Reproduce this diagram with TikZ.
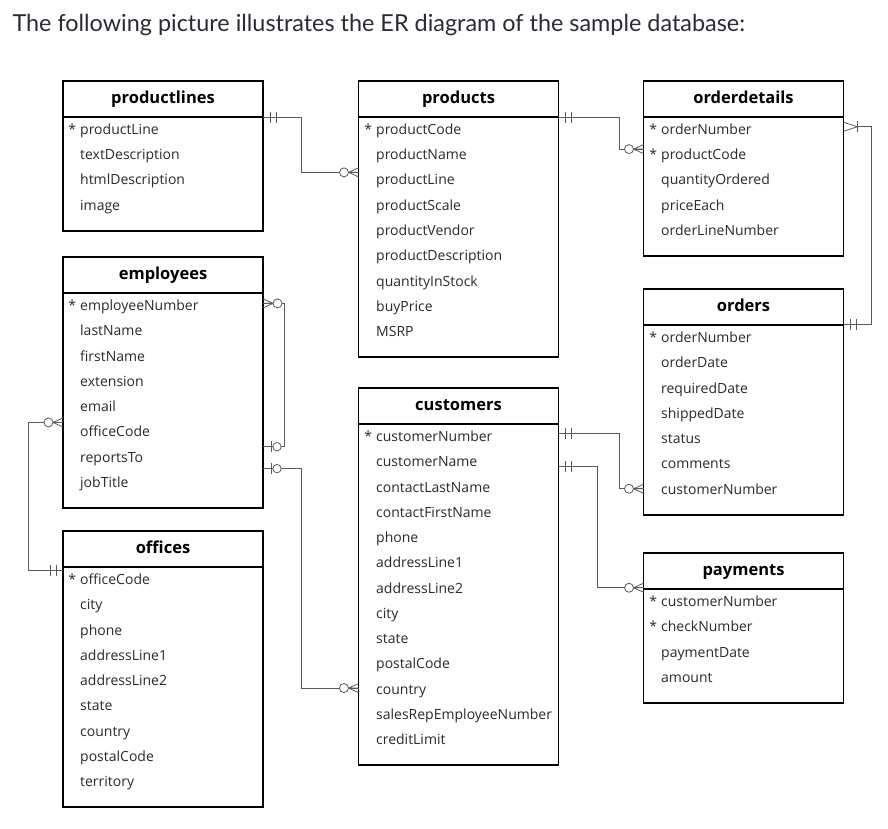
\documentclass[tikz,border=0pt]{standalone}
\usepackage{fontspec}
\setmainfont{Open Sans}
\newfontfamily\titlefont{Lato}
\usepackage{tikz}
\usetikzlibrary{positioning}
\usetikzlibrary{calc}
\newcommand{\keymark}{\llap{*\hspace{4pt}}}
\definecolor{relgray}{HTML}{5A5A5A}
\definecolor{fieldtext}{HTML}{2A2A2A}
\definecolor{titletext}{HTML}{2B2B33}
\begin{document}
\begin{tikzpicture}[x=1pt,y=-1pt,
		head/.style={draw=black, line width=1.6pt, outer sep=0pt, minimum width=200pt, minimum height=36pt, inner sep=0pt, text height=12pt, text depth=3.5pt, anchor=north, font=\fontsize{16.5}{18}\selectfont\bfseries},
		tablebox/.style={draw=black, line width=1.6pt, outer sep=0pt, minimum width=200pt, inner sep=0pt},
		field/.style={anchor=base west, inner sep=0pt, text=fieldtext, font=\fontsize{14}{16}\selectfont},
		rel/.style={draw=relgray, line width=0.8pt},
		zeromany/.pic={\draw[rel] (0,-4.5) -- (10,0) -- (0,4.5) (0,0) -- (10,0);
			\draw[rel, fill=white] (14.5,0) circle[radius=4.5];},
		onlyone/.pic={\draw[rel] (7,-5.5) -- (7,5.5) (13,-5.5) -- (13,5.5);},
		zeroone/.pic={\draw[rel] (8,-5.5) -- (8,5.5);
			\draw[rel, fill=white] (14,0) circle[radius=4.2];},
		onemany/.pic={\draw[rel] (0,-4.5) -- (14,0) -- (0,4.5) (14,-5.5) -- (14,5.5);}]
	\useasboundingbox[fill=white] (0,0) rectangle (888,829);

	\node[anchor=base west, text=titletext, font=\titlefont\fontsize{23.4}{26}\selectfont] (title) at (9,32) {The following picture illustrates the ER diagram of the sample database:};

	% tables
	\node[head] (productlines) at (163,81) {productlines};
	\node[tablebox, minimum height=114pt, below=0pt of productlines] (productlines-box) {};
	\foreach \f [count=\i] in {\keymark productLine, textDescription, htmlDescription, image}
		\node[field] (productlines-\i) at (80,{81+28.25+25.25*\i}) {\f};

	\node[head] (products) at (458.5,81) {products};
	\node[tablebox, minimum height=240pt, below=0pt of products] (products-box) {};
	\foreach \f [count=\i] in {\keymark productCode, productName, productLine, productScale, productVendor, productDescription, quantityInStock, buyPrice, MSRP}
		\node[field] (products-\i) at (376,{81+28.25+25.25*\i}) {\f};

	\node[head] (orderdetails) at (743.5,81) {orderdetails};
	\node[tablebox, minimum height=139pt, below=0pt of orderdetails] (orderdetails-box) {};
	\foreach \f [count=\i] in {\keymark orderNumber, \keymark productCode, quantityOrdered, priceEach, orderLineNumber}
		\node[field] (orderdetails-\i) at (661,{81+28.25+25.25*\i}) {\f};

	\node[head] (employees) at (163,257) {employees};
	\node[tablebox, minimum height=215pt, below=0pt of employees] (employees-box) {};
	\foreach \f [count=\i] in {\keymark employeeNumber, lastName, firstName, extension, email, officeCode, reportsTo, jobTitle}
		\node[field] (employees-\i) at (80,{257+28.25+25.25*\i}) {\f};

	\node[head] (orders) at (743.5,289) {orders};
	\node[tablebox, minimum height=190pt, below=0pt of orders] (orders-box) {};
	\foreach \f [count=\i] in {\keymark orderNumber, orderDate, requiredDate, shippedDate, status, comments, customerNumber}
		\node[field] (orders-\i) at (661,{289+28.25+25.25*\i}) {\f};

	\node[head] (customers) at (458.5,388) {customers};
	\node[tablebox, minimum height=341pt, below=0pt of customers] (customers-box) {};
	\foreach \f [count=\i] in {\keymark customerNumber, customerName, contactLastName, contactFirstName, phone, addressLine1, addressLine2, city, state, postalCode, country, salesRepEmployeeNumber, creditLimit}
		\node[field] (customers-\i) at (376,{388+28.25+25.25*\i}) {\f};

	\node[head] (offices) at (163,531) {offices};
	\node[tablebox, minimum height=240pt, below=0pt of offices] (offices-box) {};
	\foreach \f [count=\i] in {\keymark officeCode, city, phone, addressLine1, addressLine2, state, country, postalCode, territory}
		\node[field] (offices-\i) at (80,{531+28.25+25.25*\i}) {\f};

	\node[head] (payments) at (743.5,553) {payments};
	\node[tablebox, minimum height=114pt, below=0pt of payments] (payments-box) {};
	\foreach \f [count=\i] in {\keymark customerNumber, \keymark checkNumber, paymentDate, amount}
		\node[field] (payments-\i) at (661,{553+28.25+25.25*\i}) {\f};

	% relationships
	\coordinate (pl-a) at ($(productlines-1 -| productlines-box.east)+(0,-13.5)$);
	\coordinate (pl-b) at ($(products-3 -| products-box.west)+(0,-9)$);
	\draw[rel] (pl-a) -- ++(38,0) |- (pl-b);
	\pic at (pl-a) {onlyone};
	\pic[xscale=-1] at (pl-b) {zeromany};

	\coordinate (pd-a) at ($(products-1 -| products-box.east)+(0,-13.5)$);
	\coordinate (pd-b) at ($(orderdetails-2 -| orderdetails-box.west)+(0,-7)$);
	\draw[rel] (pd-a) -- ++(61,0) |- (pd-b);
	\pic at (pd-a) {onlyone};
	\pic[xscale=-1] at (pd-b) {zeromany};

	\coordinate (od-a) at ($(orders-1 -| orders-box.east)+(0,-12.5)$);
	\coordinate (od-b) at ($(orderdetails-1 -| orderdetails-box.east)+(0,-2.5)$);
	\draw[rel] (od-a) -- ++(28,0) |- ($(od-b)+(14,0)$);
	\pic at (od-a) {onlyone};
	\pic at (od-b) {onemany};

	\coordinate (em-a) at ($(employees-1 -| employees-box.east)+(0,-3.5)$);
	\coordinate (em-b) at ($(employees-7 -| employees-box.east)+(0,-12)$);
	\draw[rel] (em-a) -- ++(21,0) |- (em-b);
	\pic at (em-a) {zeromany};
	\pic at (em-b) {zeroone};

	\coordinate (sr-a) at ($(employees-8 -| employees-box.east)+(0,-15)$);
	\coordinate (sr-b) at ($(customers-11 -| customers-box.west)+(0,-3)$);
	\draw[rel] (sr-a) -- ++(38,0) |- (sr-b);
	\pic at (sr-a) {zeroone};
	\pic[xscale=-1] at (sr-b) {zeromany};

	\coordinate (of-a) at ($(offices-1 -| offices-box.west)+(0,-8.5)$);
	\coordinate (of-b) at ($(employees-6 -| employees-box.west)+(0,-9)$);
	\draw[rel] (of-a) -- ++(-35,0) |- (of-b);
	\pic[xscale=-1] at (of-a) {onlyone};
	\pic[xscale=-1] at (of-b) {zeromany};

	\coordinate (cu-a) at ($(customers-1 -| customers-box.east)+(0,-2.5)$);
	\coordinate (cu-b) at ($(orders-7 -| orders-box.west)+(0,0)$);
	\draw[rel] (cu-a) -- ++(61,0) |- (cu-b);
	\pic at (cu-a) {onlyone};
	\pic[xscale=-1] at (cu-b) {zeromany};

	\coordinate (pa-a) at ($(customers-2 -| customers-box.east)+(0,5)$);
	\coordinate (pa-b) at ($(payments-1 -| payments-box.west)+(0,-13.5)$);
	\draw[rel] (pa-a) -- ++(39,0) |- (pa-b);
	\pic at (pa-a) {onlyone};
	\pic[xscale=-1] at (pa-b) {zeromany};
\end{tikzpicture}
\end{document}
